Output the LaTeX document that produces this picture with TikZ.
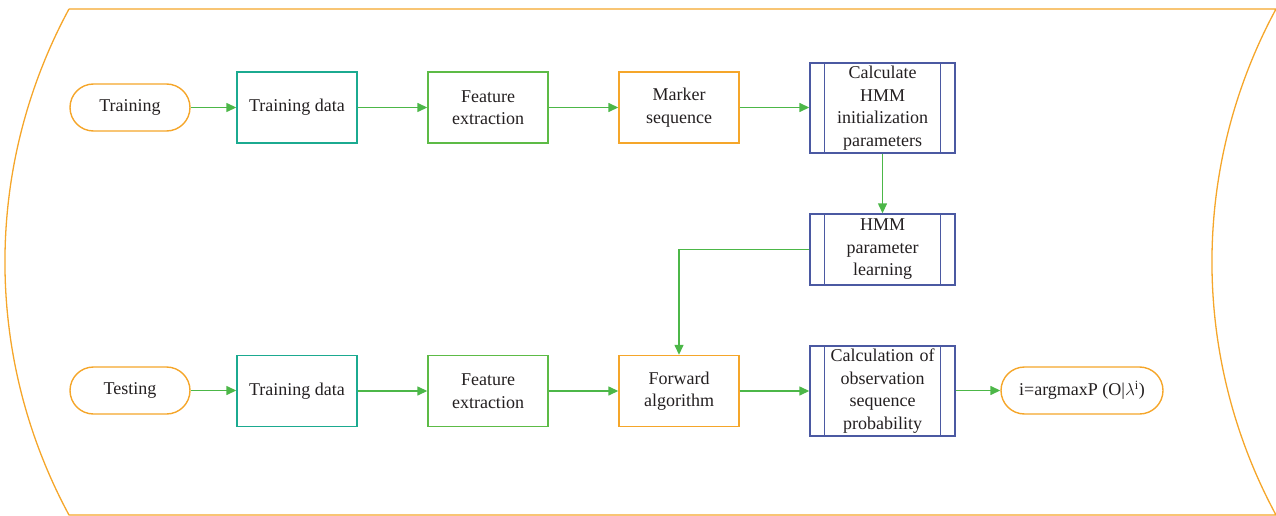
\documentclass[tikz,border=0pt]{standalone}
\usepackage{fontspec}
\setmainfont{Liberation Serif}
\usetikzlibrary{arrows.meta}
\definecolor{frameorange}{HTML}{F5A62A}
\definecolor{dataTeal}{HTML}{1BAA90}
\definecolor{stepGreen}{HTML}{5DBB46}
\definecolor{procBlue}{HTML}{4B59A2}
\definecolor{flowGreen}{HTML}{4CB748}
\definecolor{txt}{HTML}{231F20}
\tikzset{
  base/.style={draw, line width=1.4pt, align=center, text=txt,
    font=\fontsize{18}{22.5}\selectfont, inner sep=0pt},
  terminal/.style={base, draw=frameorange, rounded corners=23.5pt,
    minimum height=47pt},
  databox/.style={base, draw=dataTeal, minimum width=120pt, minimum height=71pt},
  stepbox/.style={base, draw=stepGreen, minimum width=120pt, minimum height=71pt},
  markbox/.style={base, draw=frameorange, minimum width=120pt, minimum height=71pt},
  procbox/.style={base, draw=procBlue, minimum width=145pt, text width=120pt},
  flow/.style={draw=flowGreen, line width=1.4pt,
    -{Triangle[length=10pt,width=9pt]}},
}
\newcommand{\sidebars}[1]{%
  \draw[procBlue, line width=1.4pt] ([xshift=15pt]#1.north west) -- ([xshift=15pt]#1.south west);
  \draw[procBlue, line width=1.4pt] ([xshift=-15pt]#1.north east) -- ([xshift=-15pt]#1.south east);}
\begin{document}
\begin{tikzpicture}[x=1pt,y=-1pt]
\useasboundingbox (0,0) rectangle (1276,516);

% outer frame with concave right side and convex left side
\draw[frameorange, line width=1.3pt]
  (69,9) -- (1276,9)
  .. controls (1190.6,167) and (1190.6,357) .. (1276,515)
  -- (69,515)
  .. controls (-16.4,357) and (-16.4,167) .. (69,9);

% training row
\node[terminal, minimum width=120pt] (tr) at (130,107.5) {Training};
\node[databox] (td1) at (297,107.5) {Training data};
\node[stepbox] (fe1) at (488,107.5) {Feature\\extraction};
\node[markbox] (ms) at (679,107.5) {Marker\\sequence};
\node[procbox, minimum height=90pt] (calc) at (882.5,108) {Calculate\\HMM\\initialization\\parameters};
\sidebars{calc}
\node[procbox, minimum height=71pt] (learn) at (882.5,249.5) {HMM\\parameter\\learning};
\sidebars{learn}

% testing row
\node[terminal, minimum width=120pt] (te) at (130,390.5) {Testing};
\node[databox] (td2) at (297,391) {Training data};
\node[stepbox] (fe2) at (488,391) {Feature\\extraction};
\node[markbox] (fwd) at (679,391) {Forward\\algorithm};
\node[procbox, minimum height=90pt] (obs) at (882.5,391) {Calculation of\\observation\\sequence\\probability};
\sidebars{obs}
\node[terminal, minimum width=162pt] (res) at (1082,390.5) {i=argmaxP (O|$\lambda^{\mathrm{i}}$)};

% connectors
\draw[flow] (tr) -- (td1);
\draw[flow] (td1) -- (fe1);
\draw[flow] (fe1) -- (ms);
\draw[flow] (ms) -- (ms -| calc.west);
\draw[flow] (calc) -- (learn);
\draw[flow] (learn.west) -| (fwd.north);
\draw[flow] (te) -- (te -| td2.west);
\draw[flow] (td2) -- (fe2);
\draw[flow] (fe2) -- (fwd);
\draw[flow] (fwd) -- (obs);
\draw[flow] (obs.east |- res) -- (res);
\end{tikzpicture}
\end{document}
